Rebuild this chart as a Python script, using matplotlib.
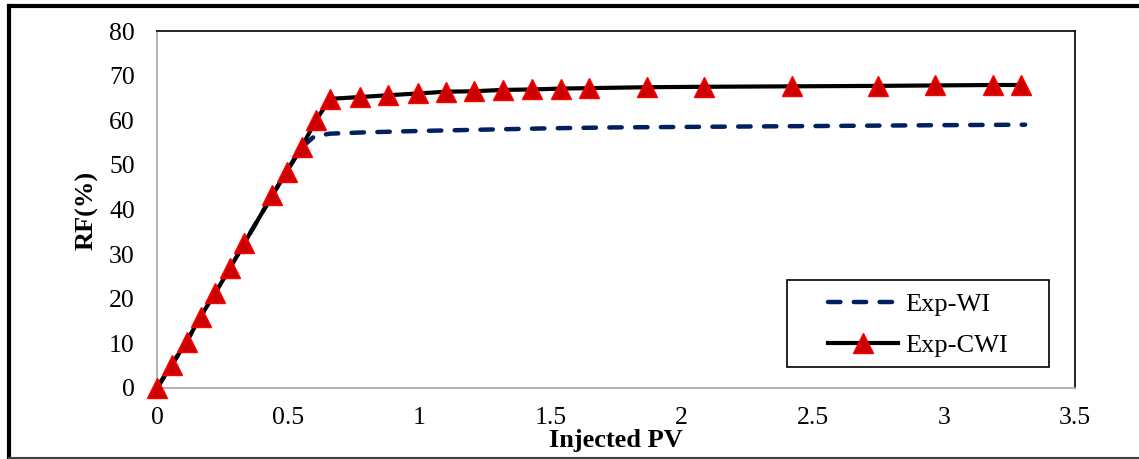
import matplotlib
matplotlib.use("Agg")
import matplotlib.pyplot as plt
from matplotlib.lines import Line2D
from matplotlib.patches import Rectangle

plt.rcParams["font.family"] = ["Liberation Serif", "DejaVu Serif"]

# recovery factor vs injected pore volumes
pv_cwi = [0, 0.056, 0.113, 0.166, 0.221, 0.278, 0.332, 0.44, 0.494, 0.551, 0.606,
          0.66, 0.774, 0.881, 0.995, 1.102, 1.209, 1.319, 1.43, 1.54, 1.647,
          1.868, 2.085, 2.42, 2.749, 2.966, 3.187, 3.294]
rf_cwi = [0, 5.2, 10.4, 16.0, 21.2, 26.8, 32.4, 43.2, 48.5, 53.9, 60.0,
          64.8, 65.2, 65.6, 66.0, 66.4, 66.5, 66.8, 66.9, 67.1, 67.2,
          67.4, 67.5, 67.6, 67.7, 67.8, 67.9, 67.9]

pv_wi = [0, 0.056, 0.113, 0.166, 0.221, 0.278, 0.332, 0.44, 0.494, 0.551, 0.60,
         0.66, 0.8, 1.0, 1.25, 1.5, 1.75, 2.0, 2.5, 3.0, 3.31]
rf_wi = [0, 5.2, 10.4, 16.0, 21.2, 26.8, 32.4, 43.2, 48.5, 53.9, 56.4,
         57.0, 57.3, 57.6, 57.9, 58.2, 58.4, 58.5, 58.7, 58.9, 59.0]

x_ticks = [0, 0.5, 1, 1.5, 2, 2.5, 3, 3.5]
y_ticks = [0, 10, 20, 30, 40, 50, 60, 70, 80]
labels = ["Exp-WI", "Exp-CWI"]

W, H = 1139, 459
fig = plt.figure(figsize=(W / 100, H / 100), dpi=100)
ax = fig.add_axes([157 / W, 1 - 388 / H, (1075 - 157) / W, (388 - 31) / H])

ax.plot(pv_wi, rf_wi, color="#002060", lw=3.2, linestyle=(0, (2.8, 3.0)),
        dash_capstyle="round", label=labels[0], zorder=2)
ax.plot(pv_cwi, rf_cwi, color="black", lw=3.0, marker="^", ms=14,
        markerfacecolor="#cc0000", markeredgecolor="#ff0000", mew=1,
        label=labels[1], zorder=3, clip_on=False)

ax.set_xlim(0, 3.5)
ax.set_ylim(0, 80)
ax.set_xticks(x_ticks)
ax.set_xticklabels([f"{t:g}" for t in x_ticks])
ax.set_yticks(y_ticks)
ax.tick_params(length=0, labelsize=18.5)
ax.tick_params(axis="y", pad=16)
ax.tick_params(axis="x", pad=14)

for side in ("left", "bottom"):
    ax.spines[side].set_color("#a6a6a6")
    ax.spines[side].set_linewidth(1.2)
for side in ("top", "right"):
    ax.spines[side].set_color("black")
    ax.spines[side].set_linewidth(1.2)

fig.text(616 / W, 1 - 441 / H, "Injected PV", ha="center", va="center",
         fontsize=19, fontweight="bold")
fig.text(87 / W, 1 - 210 / H, "RF(%)", ha="center", va="center",
         rotation=90, fontsize=19, fontweight="bold")

# legend box drawn separately so the padding can differ per side
x0, x1 = (787 - 157) / 918, (1049 - 157) / 918
y0, y1 = (388 - 367) / 357, (388 - 280) / 357
ax.add_patch(Rectangle((x0, y0), x1 - x0, y1 - y0, transform=ax.transAxes,
                       fill=True, facecolor="white", edgecolor="black",
                       lw=1.2, zorder=4))
leg = ax.legend(loc="center", bbox_to_anchor=((x0 + x1) / 2, (388 - 325) / 357),
                frameon=False, fontsize=19, handlelength=2.65,
                handletextpad=0.3, labelspacing=0.65, borderpad=0)
leg.set_zorder(5)

# outer chart border
fig.add_artist(Line2D([9 / W, 1.0], [1 - 6 / H, 1 - 6 / H], color="black",
                      lw=3, transform=fig.transFigure))
fig.add_artist(Line2D([9 / W, 9 / W], [1 - 6 / H, 1 / H], color="black",
                      lw=3, transform=fig.transFigure))
fig.add_artist(Line2D([9 / W, 1.0], [1 / H, 1 / H], color="#404040",
                      lw=1.5, transform=fig.transFigure))

fig.savefig("out.png", dpi=100)
